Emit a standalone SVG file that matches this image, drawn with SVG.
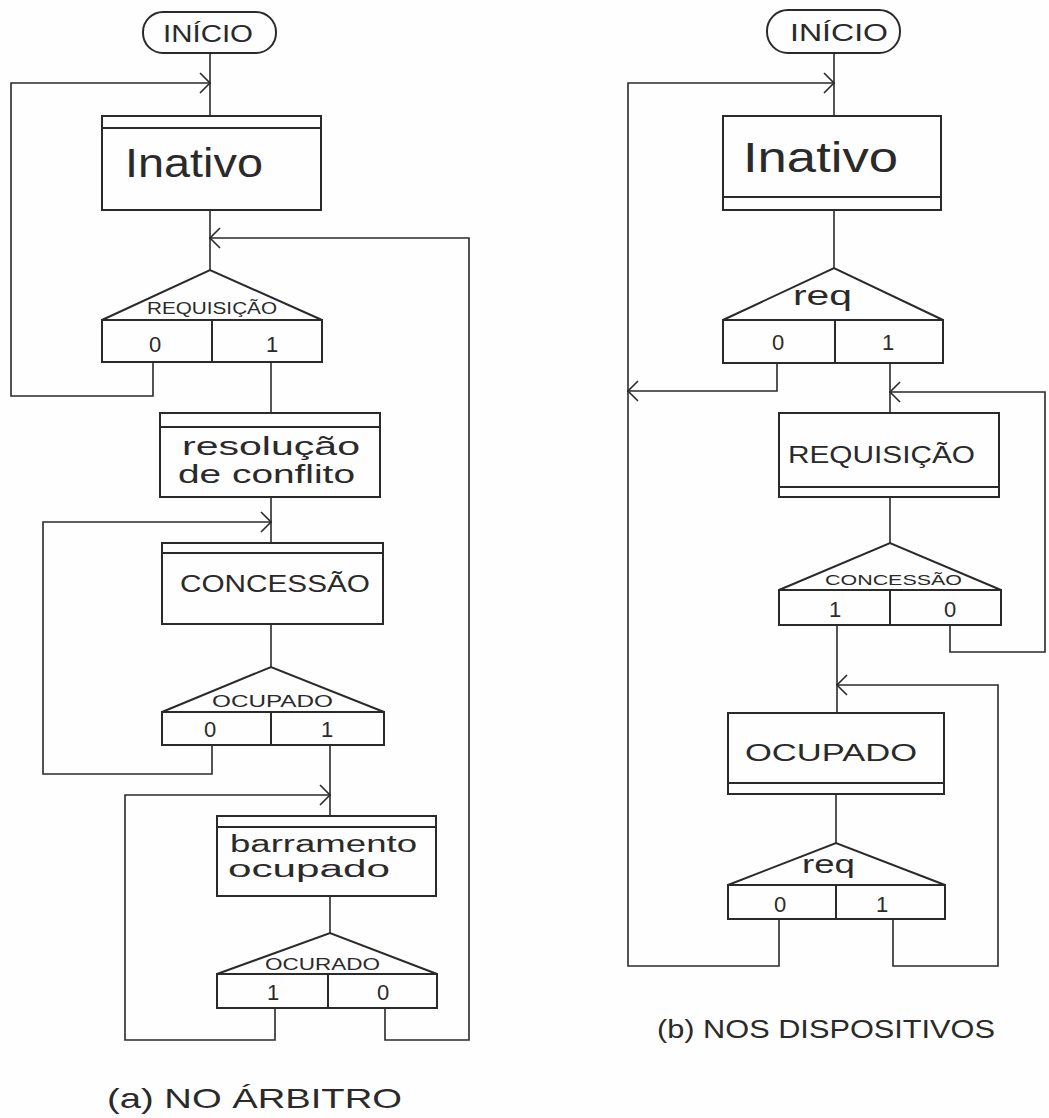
<svg xmlns="http://www.w3.org/2000/svg" width="1049" height="1118" viewBox="0 0 1049 1118">
  <style>
    .ln { fill: none; stroke: #2a2a2a; stroke-width: 1.6; stroke-linecap: square; stroke-linejoin: miter; }
    .box { fill: none; stroke: #2a2a2a; stroke-width: 2; }
    .tx { font-family: "Liberation Sans", "DejaVu Sans", sans-serif; fill: #2a2a2a; }
    .big { font-size: 40px; }
    .mid { font-size: 25px; }
    .cap { font-size: 24px; }
    .sm { font-size: 16px; }
    .dig { font-size: 22px; text-anchor: middle; }
  </style>
  <defs>
    <marker id="arr" markerUnits="userSpaceOnUse" markerWidth="14" markerHeight="24" refX="11" refY="11" orient="auto" overflow="visible">
      <path d="M1,1 L11,11 L1,21" fill="none" stroke="#2a2a2a" stroke-width="1.6"/>
    </marker>
  </defs>
  <rect width="1049" height="1118" fill="#fefefe"/>

  <!-- connectors -->
  <g id="connectors" class="ln">
    <!-- (a) arbiter -->
    <path d="M210,53 V116"/>
    <path d="M153,362 V396 H11 V83 H210" marker-end="url(#arr)"/>
    <path d="M210,210 V270"/>
    <path d="M271,362 V413"/>
    <path d="M271,497 V543"/>
    <path d="M212,745 V774 H43 V522 H271" marker-end="url(#arr)"/>
    <path d="M271,624 V667"/>
    <path d="M330,745 V816"/>
    <path d="M275,1008 V1040 H125 V795 H330" marker-end="url(#arr)"/>
    <path d="M330,896 V933"/>
    <path d="M385,1008 V1040 H469 V238 H210" marker-end="url(#arr)"/>
    <!-- (b) devices -->
    <path d="M834,53 V116"/>
    <path d="M779,919 V966 H628 V83 H834" marker-end="url(#arr)"/>
    <path d="M834,210 V268"/>
    <path d="M777,363 V391 H628" marker-end="url(#arr)"/>
    <path d="M890,363 V413"/>
    <path d="M950,625 V652 H1045 V392 H890" marker-end="url(#arr)"/>
    <path d="M890,497 V543"/>
    <path d="M837,625 V713"/>
    <path d="M893,919 V966 H998 V685 H837" marker-end="url(#arr)"/>
    <path d="M836,794 V843"/>
  </g>

  <!-- (a) NO ÁRBITRO -->
  <g id="a-inicio">
    <rect class="box" x="143" y="12" width="133" height="41" rx="20"/>
    <text class="tx cap" x="163" y="42" textLength="90" lengthAdjust="spacingAndGlyphs">INÍCIO</text>
  </g>
  <g id="a-inativo">
    <rect class="box" x="102" y="116" width="219" height="94"/>
    <line class="box" x1="102" y1="128" x2="321" y2="128"/>
    <text class="tx big" x="125" y="177" textLength="138" lengthAdjust="spacingAndGlyphs">Inativo</text>
  </g>
  <g id="a-dec-requisicao">
    <path class="box" d="M102,320 L210,270 L322,320 Z"/>
    <rect class="box" x="102" y="320" width="220" height="42"/>
    <line class="box" x1="212" y1="320" x2="212" y2="362"/>
    <text class="tx sm" x="147" y="314" textLength="130" lengthAdjust="spacingAndGlyphs">REQUISIÇÃO</text>
    <text class="tx dig" x="155" y="352">0</text>
    <text class="tx dig" x="272" y="352">1</text>
  </g>
  <g id="a-resolucao">
    <rect class="box" x="160" y="413" width="220" height="84"/>
    <line class="box" x1="160" y1="427" x2="380" y2="427"/>
    <text class="tx mid" x="182" y="455" textLength="178" lengthAdjust="spacingAndGlyphs">resolução</text>
    <text class="tx mid" x="178" y="483" textLength="177" lengthAdjust="spacingAndGlyphs">de conflito</text>
  </g>
  <g id="a-concessao">
    <rect class="box" x="162" y="543" width="221" height="81"/>
    <line class="box" x1="162" y1="553" x2="383" y2="553"/>
    <text class="tx cap" x="180" y="592" textLength="190" lengthAdjust="spacingAndGlyphs">CONCESSÃO</text>
  </g>
  <g id="a-dec-ocupado">
    <path class="box" d="M162,712 L271,667 L384,712 Z"/>
    <rect class="box" x="162" y="712" width="222" height="33"/>
    <line class="box" x1="271" y1="712" x2="271" y2="745"/>
    <text class="tx sm" x="212" y="707" textLength="121" lengthAdjust="spacingAndGlyphs">OCUPADO</text>
    <text class="tx dig" x="210" y="737">0</text>
    <text class="tx dig" x="327" y="737">1</text>
  </g>
  <g id="a-barramento">
    <rect class="box" x="217" y="816" width="219" height="80"/>
    <line class="box" x1="217" y1="827" x2="436" y2="827"/>
    <text class="tx" style="font-size:23px" x="230" y="852" textLength="187" lengthAdjust="spacingAndGlyphs">barramento</text>
    <text class="tx" style="font-size:23px" x="228" y="877" textLength="162" lengthAdjust="spacingAndGlyphs">ocupado</text>
  </g>
  <g id="a-dec-ocupado2">
    <path class="box" d="M217,974 L330,933 L437,974 Z"/>
    <rect class="box" x="217" y="974" width="220" height="34"/>
    <line class="box" x1="328" y1="974" x2="328" y2="1008"/>
    <text class="tx sm" x="265" y="970" textLength="115" lengthAdjust="spacingAndGlyphs">OCURADO</text>
    <text class="tx dig" x="273" y="1000">1</text>
    <text class="tx dig" x="383" y="1000">0</text>
  </g>
  <text id="a-caption" class="tx" style="font-size:28px" x="107" y="1108" textLength="295" lengthAdjust="spacingAndGlyphs">(a) NO ÁRBITRO</text>

  <!-- (b) NOS DISPOSITIVOS -->
  <g id="b-inicio">
    <rect class="box" x="767" y="10" width="133" height="43" rx="21"/>
    <text class="tx cap" x="790" y="41" textLength="98" lengthAdjust="spacingAndGlyphs">INÍCIO</text>
  </g>
  <g id="b-inativo">
    <rect class="box" x="723" y="116" width="218" height="94"/>
    <line class="box" x1="723" y1="197" x2="941" y2="197"/>
    <text class="tx" style="font-size:43px" x="743" y="172" textLength="155" lengthAdjust="spacingAndGlyphs">Inativo</text>
  </g>
  <g id="b-dec-req">
    <path class="box" d="M723,320 L834,268 L943,320 Z"/>
    <rect class="box" x="723" y="320" width="220" height="43"/>
    <line class="box" x1="835" y1="320" x2="835" y2="363"/>
    <text class="tx" style="font-size:28px" x="793" y="305" textLength="59" lengthAdjust="spacingAndGlyphs">req</text>
    <text class="tx dig" x="778" y="350">0</text>
    <text class="tx dig" x="888" y="350">1</text>
  </g>
  <g id="b-requisicao">
    <rect class="box" x="779" y="413" width="220" height="84"/>
    <line class="box" x1="779" y1="487" x2="999" y2="487"/>
    <text class="tx cap" x="788" y="463" textLength="187" lengthAdjust="spacingAndGlyphs">REQUISIÇÃO</text>
  </g>
  <g id="b-dec-concessao">
    <path class="box" d="M779,590 L890,543 L1001,590 Z"/>
    <rect class="box" x="779" y="590" width="222" height="35"/>
    <line class="box" x1="890" y1="590" x2="890" y2="625"/>
    <text class="tx" style="font-size:14px" x="825" y="585" textLength="137" lengthAdjust="spacingAndGlyphs">CONCESSÃO</text>
    <text class="tx dig" x="835" y="617">1</text>
    <text class="tx dig" x="950" y="617">0</text>
  </g>
  <g id="b-ocupado">
    <rect class="box" x="728" y="713" width="216" height="81"/>
    <line class="box" x1="728" y1="783" x2="944" y2="783"/>
    <text class="tx cap" x="745" y="761" textLength="172" lengthAdjust="spacingAndGlyphs">OCUPADO</text>
  </g>
  <g id="b-dec-req2">
    <path class="box" d="M728,885 L836,843 L945,885 Z"/>
    <rect class="box" x="728" y="885" width="217" height="34"/>
    <line class="box" x1="836" y1="885" x2="836" y2="919"/>
    <text class="tx" style="font-size:26px" x="802" y="873" textLength="53" lengthAdjust="spacingAndGlyphs">req</text>
    <text class="tx dig" x="780" y="912">0</text>
    <text class="tx dig" x="882" y="912">1</text>
  </g>
  <text id="b-caption" class="tx" style="font-size:26px" x="657" y="1038" textLength="338" lengthAdjust="spacingAndGlyphs">(b) NOS DISPOSITIVOS</text>
</svg>
